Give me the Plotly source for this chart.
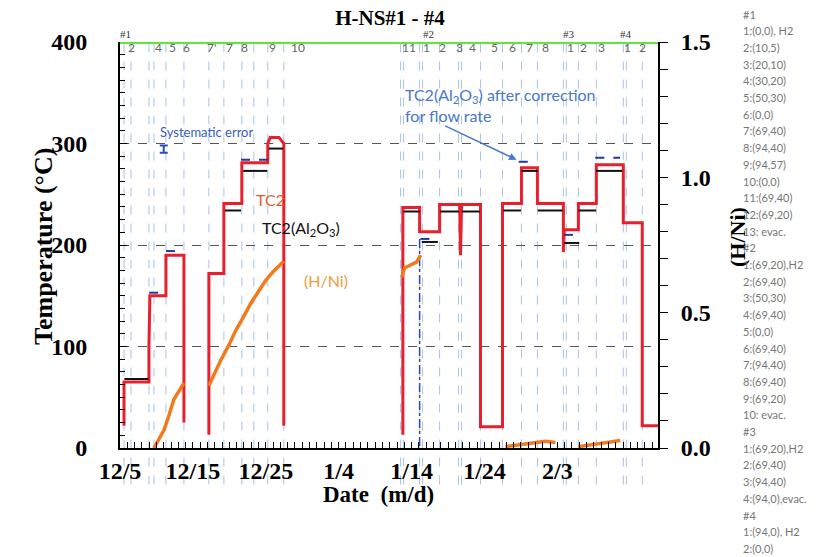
import plotly.graph_objects as go

# ---------------- data ----------------
date_tick_days = [0, 10, 20, 30, 40, 50, 60]
date_tick_labels = ["12/5", "12/15", "12/25", "1/4", "1/14", "1/24", "2/3"]

# TC2 (red), days since 12/5, temperature in deg C
tc2_day = [0.55, 0.55, 3.97, 3.97, 4.1, 6.3, 6.3, 8.77, 8.77, None,
           12.19, 12.19, 14.25, 14.25, 16.71, 16.71, 20.27, 20.27, 20.6, 21.8, 22.47, 22.47, None,
           38.8, 38.8, 41.1, 41.1, 43.84, 43.84, 46.6, 46.71, 46.85, 49.45, 49.45, 52.47, 52.47,
           55.07, 55.07, 57.26, 57.26, 60.82, 60.82, 60.95, 62.88, 62.88, 65.34, 65.34,
           69.04, 69.04, 71.64, 71.64, 73.8]
tc2_temp = [22, 65, 65, 100, 150, 150, 190, 190, 25, None,
            13, 172, 172, 241, 241, 281, 281, 300, 306, 306, 300, 22, None,
            13, 237, 237, 213, 213, 240, 240, 190, 240, 240, 21, 21, 241,
            241, 276, 276, 241, 241, 193, 215, 215, 241, 241, 279,
            279, 222, 222, 22, 22]

# TC2(Al2O3) (black)
al_day = [0.6, 3.9, None, 14.4, 16.6, None, 16.9, 20.2, None, 20.4, 22.4, None,
          38.9, 41.1, None, 41.4, 43.6, None, 43.9, 46.5, None, 46.9, 49.4, None,
          52.6, 55.0, None, 55.1, 57.3, None, 57.3, 60.7, None, 60.9, 63.0, None,
          62.9, 65.3, None, 65.3, 68.9]
al_temp = [68, 68, None, 234, 234, None, 273, 273, None, 295, 295, None,
           233, 233, None, 203, 203, None, 233, 233, None, 233, 233, None,
           234, 234, None, 273, 273, None, 234, 234, None, 202, 202, None,
           234, 234, None, 273, 273]

# TC2(Al2O3) after correction for flow rate (blue)
cor_day = [4.0, 5.6, None, 6.3, 7.6, None, 16.6, 20.3, None, 41.2, 43.0, None,
           54.7, 56.6, None, 60.9, 62.2, None, 65.2, 68.6]
cor_temp = [153, 153, None, 194, 194, None, 284, 284, None, 206, 206, None,
            282, 282, None, 210, 210, None, 286, 286]
cor_drop_day = [41.1, 41.1]
cor_drop_temp = [206, 0]

# H/Ni (orange, right axis)
hni_day = [4.66, 5.34, 6.03, 6.71, 7.4, 8.08, 8.77, None,
           12.19, 12.88, 13.84, 14.93, 15.89, 16.85, 17.95, 19.04, 20.0, 20.96, 21.78, 22.47, None,
           38.63, 39.04, 39.86, 40.68, 41.23, None,
           52.88, 54.25, 55.62, 56.99, 58.36, 59.73, None,
           62.88, 64.52, 65.89, 67.26, 68.63]
hni_val = [0.0, 0.03, 0.066, 0.12, 0.18, 0.21, 0.24, None,
           0.23, 0.27, 0.325, 0.38, 0.435, 0.48, 0.535, 0.58, 0.62, 0.65, 0.67, 0.69, None,
           0.63, 0.665, 0.676, 0.687, 0.713, None,
           0.005, 0.01, 0.015, 0.02, 0.025, 0.02, None,
           0.005, 0.012, 0.018, 0.022, 0.028]

# systematic error bar
syserr_day = [6.0]
syserr_temp = [294.5]
syserr_half = [3.5]

# step boundaries (days)
step_lines = [0.55, 1.51, 3.97, 4.66, 6.30, 8.77, 12.19, 14.25, 16.71, 18.36, 20.27, 22.47,
              38.49, 38.9, 41.1, 41.51, 43.84, 46.44, 46.85, 49.45, 52.47, 55.07, 57.26,
              60.82, 61.23, 62.88, 65.34, 69.04, 69.45, 71.64]
step_labels = ["2", "4", "5", "6", "7'", "7", "8", "9", "10",
               "11", "1", "2", "3", "4", "5", "6", "7", "8",
               "1", "2", "3", "1", "2"]
step_label_day = [1.64, 5.34, 7.26, 9.18, 12.6, 15.07, 17.12, 20.96, 24.38,
                  39.59, 42.05, 44.25, 46.58, 48.36, 51.37, 53.84, 56.16, 58.36,
                  61.78, 63.56, 66.03, 69.59, 71.64]
group_labels = ["#1", "#2", "#3", "#4"]
group_label_day = [0.82, 42.3, 61.6, 69.45]

condition_list = ["#1", "1:(0,0), H2", "2:(10,5)", "3:(20,10)", "4:(30,20)", "5:(50,30)",
                  "6:(0,0)", "7:(69,40)", "8:(94,40)", "9:(94,57)", "10:(0,0)", "11:(69,40)",
                  "12:(69,20)", "13: evac.", "#2", "1:(69,20),H2", "2:(69,40)", "3:(50,30)",
                  "4:(69,40)", "5:(0,0)", "6:(69,40)", "7:(94,40)", "8:(69,40)", "9:(69,20)",
                  "10: evac.", "#3", "1:(69,20),H2", "2:(69,40)", "3:(94,40)", "4:(94,0),evac.",
                  "#4", "1:(94,0), H2", "2:(0,0)"]

# ---------------- figure ----------------
W, H = 822, 557
ML, MR, MT, MB = 120, 164, 42, 109
PW, PH = W - ML - MR, H - MT - MB
XMAX = 73.8

def px_x(px):
    return (px - ML) / PW

def px_y(py):
    return (H - MB - py) / PH

def day_paper(d):
    return d / XMAX

serif = "Liberation Serif"
fig = go.Figure()

fig.add_trace(go.Scatter(x=hni_day, y=hni_val, mode="lines", yaxis="y2",
                         line=dict(color="#f07a1c", width=3.5), connectgaps=False,
                         showlegend=False, hoverinfo="skip"))
fig.add_trace(go.Scatter(x=tc2_day, y=tc2_temp, mode="lines",
                         line=dict(color="#e8202e", width=3), showlegend=False))
fig.add_trace(go.Scatter(x=al_day, y=al_temp, mode="lines",
                         line=dict(color="#111111", width=2), showlegend=False))
fig.add_trace(go.Scatter(x=cor_day, y=cor_temp, mode="lines",
                         line=dict(color="#24379a", width=2, dash="dash"), showlegend=False))
fig.add_trace(go.Scatter(x=cor_drop_day, y=cor_drop_temp, mode="lines",
                         line=dict(color="#2a48c0", width=1.5, dash="dashdot"), showlegend=False))
fig.add_trace(go.Scatter(x=syserr_day, y=syserr_temp, mode="markers",
                         marker=dict(size=1, color="#2a48c0"),
                         error_y=dict(type="data", array=syserr_half, color="#2a48c0",
                                      thickness=2, width=4),
                         showlegend=False))

shapes = []
for d in step_lines:
    shapes.append(dict(type="line", xref="x", yref="paper", x0=d, x1=d, y0=-0.09, y1=1.0,
                       line=dict(color="#a9c3e6", width=1, dash="dash"), layer="below"))
shapes.append(dict(type="line", xref="paper", yref="y", x0=0, x1=1.0, y0=400, y1=400,
                   line=dict(color="#5ee83a", width=4)))
fig.update_layout(shapes=shapes)

ann = []
C = dict(xanchor="center", yanchor="middle", showarrow=False)
for lab, d in zip(step_labels, step_label_day):
    ann.append(dict(x=d, y=395, xref="x", yref="y", text=lab, **C,
                    font=dict(family="Lato", size=12, color="#666666")))
for lab, d in zip(group_labels, group_label_day):
    ann.append(dict(x=day_paper(d), y=px_y(34), xref="paper", yref="paper", text=lab, **C,
                    font=dict(family=serif, size=11, color="#333333")))

ann.append(dict(x=11.8, y=311, xref="x", yref="y", text="Systematic error", **C,
                font=dict(family="Lato", size=13, color="#3a5cc0")))
ann.append(dict(x=20.7, y=245, xref="x", yref="y", text="TC2", **C,
                font=dict(family="Lato", size=16, color="#e85a2c")))
ann.append(dict(x=24.8, y=216, xref="x", yref="y", text="TC2(Al<sub>2</sub>O<sub>3</sub>)", **C,
                font=dict(family="Lato", size=16, color="#111111")))
ann.append(dict(x=28.2, y=165, xref="x", yref="y", text="(H/Ni)", **C,
                font=dict(family="Lato", size=16, color="#f39a3a")))
ann.append(dict(x=38.77, y=338, xref="x", yref="y", xanchor="left", yanchor="middle",
                text="TC2(Al<sub>2</sub>O<sub>3</sub>) after correction<br>for flow rate",
                showarrow=False, align="left",
                font=dict(family="Lato", size=16, color="#4a78c8")))
ann.append(dict(x=54.4, y=284, xref="x", yref="y", ax=44.4, ay=318, axref="x", ayref="y",
                text="", showarrow=True, arrowhead=2, arrowsize=1, arrowwidth=1.5,
                arrowcolor="#4a78c8"))

# axis titles
ann.append(dict(x=px_x(43), y=px_y(247), xref="paper", yref="paper",
                text="<b>Temperature (°C)</b>", textangle=-90, **C,
                font=dict(family=serif, size=26, color="black")))
ann.append(dict(x=px_x(378), y=px_y(494), xref="paper", yref="paper",
                text="<b>Date  (m/d)</b>", **C,
                font=dict(family=serif, size=23, color="black")))
ann.append(dict(x=px_x(737), y=px_y(237), xref="paper", yref="paper", text="<b>(H/Ni)</b>",
                textangle=-90, **C, font=dict(family=serif, size=22, color="black")))
for i, line in enumerate(condition_list):
    ann.append(dict(x=px_x(741), y=px_y(14 + i * 16.7), xref="paper", yref="paper",
                    xanchor="left", yanchor="middle", text=line, showarrow=False,
                    font=dict(family="Lato", size=11, color="#777777")))

fig.update_layout(annotations=ann)

fig.update_layout(
    width=W, height=H, autosize=False,
    margin=dict(l=ML, r=MR, t=MT, b=MB, pad=0),
    paper_bgcolor="white", plot_bgcolor="white",
    title=dict(text="<b>H-NS#1 - #4</b>", x=px_x(390), xref="paper", xanchor="center",
               y=1 - 18 / H, yref="container", yanchor="middle",
               font=dict(family=serif, size=21, color="black")),
    xaxis=dict(range=[0, XMAX], tickmode="array", tickvals=date_tick_days,
               ticktext=date_tick_labels, ticks="inside", ticklen=6, tickcolor="black",
               minor=dict(tickmode="linear", tick0=0, dtick=1, ticks="inside", ticklen=6,
                          tickcolor="black"),
               showline=True, linecolor="black", linewidth=2, showgrid=False, zeroline=False,
               tickfont=dict(family=serif, size=24, color="black", weight="bold")),
    yaxis=dict(range=[0, 400], tickmode="linear", tick0=0, dtick=100, ticks="inside",
               ticklen=7, tickcolor="black",
               minor=dict(dtick=12.5, ticks="inside", ticklen=5, tickcolor="black"),
               showline=True, linecolor="black", linewidth=2, zeroline=False,
               showgrid=True, gridcolor="#555555", griddash="dash", gridwidth=1,
               ticklabelstandoff=26,
               tickfont=dict(family=serif, size=24, color="black", weight="bold")),
    yaxis2=dict(range=[0, 1.5], overlaying="y", side="right", tickmode="linear", tick0=0,
                dtick=0.5, tickformat=".1f", ticks="outside", ticklen=8, tickcolor="black",
                minor=dict(dtick=0.1, ticks="outside", ticklen=8, tickcolor="black"),
                showline=True, linecolor="black", linewidth=2, showgrid=False, zeroline=False,
                ticklabelstandoff=8,
                tickfont=dict(family=serif, size=24, color="black", weight="bold")),
)

fig.write_html("out.html")
